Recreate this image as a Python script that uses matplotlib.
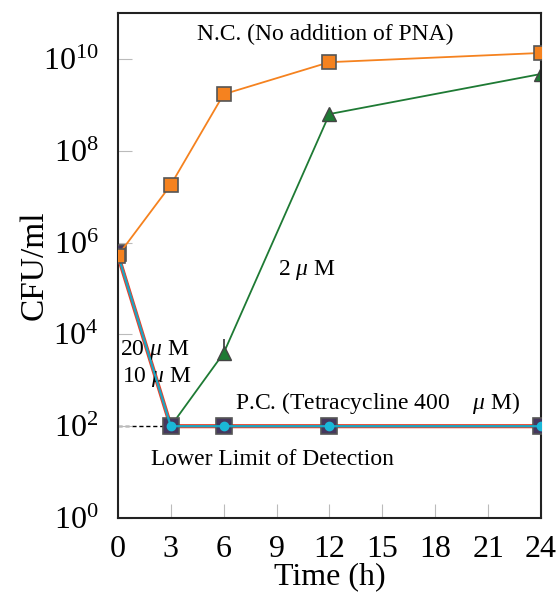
import matplotlib
matplotlib.use('Agg')
import matplotlib.pyplot as plt
import numpy as np

plt.rcParams['font.family'] = ['Liberation Serif', 'DejaVu Serif']
plt.rcParams['mathtext.fontset'] = 'custom'
plt.rcParams['mathtext.rm'] = 'Liberation Serif'
plt.rcParams['mathtext.it'] = 'Liberation Serif:italic'

hours = [0, 3, 6, 12, 24]
nc = [5.2e5, 1.8e7, 1.7e9, 8.5e9, 1.35e10]          # no PNA
pna_2 = [5.8e5, 100, 3.9e3, 6.3e8, 4.7e9]           # 2 uM
pna_10 = [5.5e5, 100, 100, 100, 100]                # 10 uM
pna_20 = [6.0e5, 100, 100, 100, 100]                # 20 uM
pc = [5.4e5, 100, 100, 100, 100]                    # tetracycline 400 uM
err_2_up = [0, 0, 4.0e3, 0, 0]
detect_x = [0, 24]
detect_y = [100, 100]

fig = plt.figure(figsize=(5.56, 5.92), dpi=100)
ax = fig.add_axes([0.212, 0.125, 0.761, 0.853])

ax.plot(detect_x, detect_y, color='black', ls=(0, (3, 2)), lw=1, zorder=1)
ax.errorbar(hours, pna_2, yerr=[[0] * 5, err_2_up], fmt='none', ecolor='#333333',
            elinewidth=1.2, capsize=0, zorder=2)
ax.plot(hours, pna_2, color='#1e7a34', lw=1.3, marker='^', ms=10,
        mfc='#1e7a34', mec='#444444', mew=1, zorder=2)
ax.plot(hours, pna_20, color='#5b2a86', lw=1.3, zorder=2.5)
ax.plot(hours, pc, color='#e8412a', lw=3, zorder=3)
ax.plot(hours, pna_20, ls='none', marker='s', ms=11,
        mfc='#45385e', mec='#555555', mew=1.2, zorder=4)
ax.plot(hours, pna_10, color='#1aa7c4', lw=1.6, marker='o', ms=6,
        mfc='#1ab8d8', mec='#1ab8d8', zorder=5)
ax.plot(hours, nc, color='#f5821f', lw=1.3, marker='s', ms=10,
        mfc='#f5821f', mec='#555555', mew=1.2, zorder=6)

ax.set_yscale('log')
ax.set_ylim(1, 1e11)
ax.set_xlim(0, 24)
ax.set_xticks(range(0, 25, 3))
ax.set_yticks([1e0, 1e2, 1e4, 1e6, 1e8, 1e10])
ax.set_yticklabels([r'$\mathrm{10^{%d}}$' % e for e in [0, 2, 4, 6, 8, 10]])
ax.minorticks_off()
ax.tick_params(direction='in', length=10, color='#bbbbbb', labelsize=23)
ax.tick_params(axis='x', pad=12)
ax.tick_params(axis='y', pad=14)
for s in ax.spines.values():
    s.set_linewidth(1.5)
    s.set_color('#222222')

ax.set_xlabel('Time (h)', fontsize=23, labelpad=-1)
ax.set_ylabel('CFU/ml', fontsize=24, labelpad=-5)

ax.text(11.74, 3.5e10, 'N.C. (No addition of PNA)', fontsize=17, ha='center', va='center')
ax.text(10.72, 2.5e5, '2 $\\mathit{\\mu}$ M', fontsize=17, ha='center', va='center')
ax.text(2.1, 4.5e3, '20 $\\mathit{\\mu}$ M', fontsize=17, ha='center', va='center')
ax.text(2.2, 1.2e3, '10 $\\mathit{\\mu}$ M', fontsize=17, ha='center', va='center')
ax.text(14.75, 3.2e2, 'P.C. (Tetracycline 400    $\\mathit{\\mu}$ M)', fontsize=17,
        ha='center', va='center')
ax.text(8.74, 19, 'Lower Limit of Detection', fontsize=17, ha='center', va='center')

fig.savefig('out.png', dpi=100)
